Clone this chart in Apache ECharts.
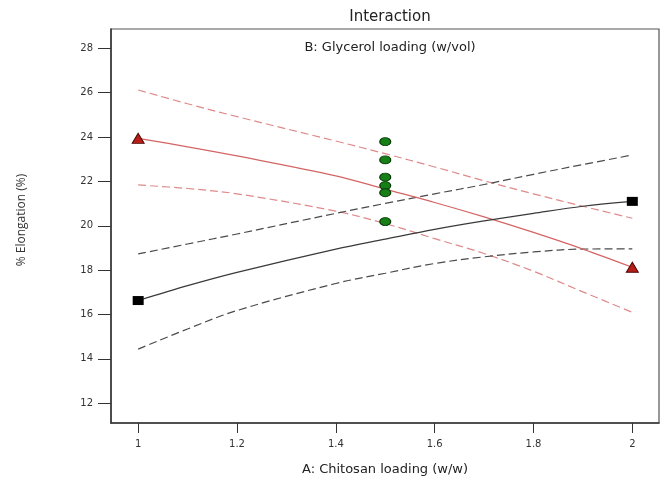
<!DOCTYPE html>
<html>
<head>
<meta charset="utf-8">
<script src="https://cdn.jsdelivr.net/npm/echarts@6/dist/echarts.min.js"></script>
<style>html,body{margin:0;padding:0;background:#fff}#c{width:666px;height:482px}</style>
</head>
<body>
<div id="c"></div>
<script>
// ---- data ----
const xValues = [1, 1.1, 1.2, 1.4, 1.5, 1.6, 1.7, 1.8, 1.9, 2];
const redMean  = [23.94, 23.56, 23.15, 22.25, 21.65, 21.05, 20.40, 19.70, 18.95, 18.13];
const redUpper = [26.12, 25.50, 24.92, 23.82, 23.25, 22.65, 22.03, 21.44, 20.88, 20.34];
const redLower = [21.84, 21.68, 21.44, 20.66, 20.10, 19.42, 18.75, 17.95, 17.02, 16.10];
const blkMean  = [16.63, 17.30, 17.90, 18.95, 19.40, 19.84, 20.22, 20.56, 20.88, 21.10];
const blkUpper = [18.73, 19.18, 19.63, 20.56, 21.01, 21.44, 21.86, 22.32, 22.76, 23.19];
const blkLower = [14.44, 15.35, 16.18, 17.40, 17.86, 18.30, 18.60, 18.82, 18.95, 18.96];
const designX = [1.5, 1.5, 1.5, 1.5, 1.5, 1.5];
const designY = [23.79, 22.97, 22.19, 21.81, 21.49, 20.19];
const redEndsX = [1, 2], redEndsY = [23.94, 18.13];
const blkEndsX = [1, 2], blkEndsY = [16.63, 21.10];
const xTicks = [1, 1.2, 1.4, 1.6, 1.8, 2];
const yTicks = [12, 14, 16, 18, 20, 22, 24, 26, 28];
const titleText = 'Interaction';
const subText = 'B: Glycerol loading (w/vol)';
const xName = 'A: Chitosan loading (w/w)';
const yName = '% Elongation (%)';

const zip = (xs, ys) => xs.map((x, i) => [x, ys[i]]);
const line = (ys, color, dashed) => ({
  type: 'line', data: zip(xValues, ys), smooth: 0.35, symbol: 'none',
  lineStyle: { color: color, width: 1.2, type: dashed ? [8, 4] : 'solid' },
  silent: true, z: 2
});

const chart = echarts.init(document.getElementById('c'), null, { renderer: 'canvas' });
chart.setOption({
  animation: false,
  backgroundColor: '#fff',
  title: [
    { text: titleText, left: 385, top: 5, textAlign: 'center',
      textStyle: { fontFamily: 'DejaVu Sans', fontSize: 15, fontWeight: 'normal', color: '#222' } },
    { text: subText, left: 385, top: 36, textAlign: 'center',
      textStyle: { fontFamily: 'DejaVu Sans', fontSize: 13, fontWeight: 'normal', color: '#222' } }
  ],
  graphic: [
    { type: 'text', x: 22, y: 220, rotation: Math.PI / 2,
      style: { text: yName, fontFamily: 'Open Sans', fontSize: 12, fill: '#333',
        align: 'center', verticalAlign: 'middle' } }
  ],
  grid: { left: 111, right: 7, top: 29, bottom: 59, show: true, borderColor: '#555', borderWidth: 1.2 },
  xAxis: {
    type: 'value', min: 0.945, max: 2.054,
    name: xName, nameLocation: 'middle', nameGap: 40,
    nameTextStyle: { fontFamily: 'DejaVu Sans', fontSize: 13, color: '#222' },
    axisLine: { show: true, lineStyle: { color: '#333', width: 1.5 } },
    axisTick: { show: true, length: 10, lineStyle: { color: '#333' }, customValues: xTicks },
    axisLabel: { customValues: xTicks, margin: 16, fontFamily: 'DejaVu Sans', fontSize: 10, color: '#333',
      formatter: v => String(+v.toFixed(1)) },
    splitLine: { show: false }
  },
  yAxis: {
    type: 'value', min: 11.11, max: 28.87,
    axisLine: { show: true, lineStyle: { color: '#333', width: 1.5 } },
    axisTick: { show: true, length: 13, lineStyle: { color: '#333' }, customValues: yTicks },
    axisLabel: { customValues: yTicks, margin: 18, fontFamily: 'DejaVu Sans', fontSize: 10, color: '#333' },
    splitLine: { show: false }
  },
  series: [
    line(redUpper, '#de8a8a', true),
    line(redLower, '#de8a8a', true),
    line(blkUpper, '#4a4a4a', true),
    line(blkLower, '#4a4a4a', true),
    line(redMean, '#d46464', false),
    line(blkMean, '#3a3a3a', false),
    { type: 'scatter', data: zip(redEndsX, redEndsY), symbol: 'triangle', symbolSize: [12, 10],
      itemStyle: { color: '#b81d17', borderColor: '#4a0808', borderWidth: 1, opacity: 1 }, z: 5 },
    { type: 'scatter', data: zip(blkEndsX, blkEndsY), symbol: 'rect', symbolSize: [11, 9],
      itemStyle: { color: '#000', opacity: 1 }, z: 5 },
    { type: 'scatter', data: zip(designX, designY), symbol: 'circle', symbolSize: [11, 8],
      itemStyle: { color: '#168016', borderColor: '#083808', borderWidth: 1, opacity: 1 }, z: 6 }
  ]
});
</script>
</body>
</html>
